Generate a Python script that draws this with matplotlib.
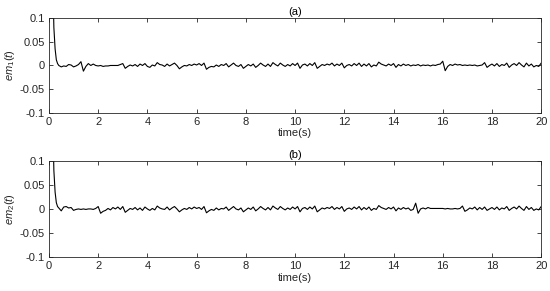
import numpy as np
from matplotlib import pyplot as plt

plt.rcParams['font.family'] = ['Liberation Sans', 'DejaVu Sans']
plt.rcParams['mathtext.fontset'] = 'custom'
plt.rcParams['mathtext.it'] = 'Liberation Sans:italic'
plt.rcParams['mathtext.rm'] = 'Liberation Sans'

# transient at the start (values above 0.1 are clipped by the axes)
t_head = [0.0, 0.15, 0.2, 0.25, 0.3, 0.35, 0.4]
em1_head = [1.0, 0.2, 0.08, 0.035, 0.012, 0.004, 0.0]
em2_head = [1.0, 0.2, 0.08, 0.035, 0.013, 0.005, 0.002]

# steady part, one value every 0.1 s from t = 0.5 to 20.0, in units of 1e-3
t_start = 0.5
t_step = 0.1
em1_milli = [
    -3, -1, -2, 2, 1, -3, -1, 2, 8, -12,
    -2, 4, 0, 3, 0, -1, 0, -2, -1, -1,
    0, 0, 0, 0, 2, 4, -6, -2, 1, -1,
    2, -2, 3, 0, 4, -2, -4, 1, -1, 6,
    2, 1, -2, 3, -1, 2, 5, 0, -7, -3,
    0, -1, 2, 0, 3, 1, 4, 0, 5, -8,
    -4, -2, -3, 1, -2, 2, 0, 4, -3, 1,
    5, 0, -2, 2, -6, -2, 2, -1, 3, -4,
    0, 5, 1, -2, 3, -2, 6, 2, -1, 5,
    1, -2, 2, -1, 4, 0, 5, -6, 1, 3,
    -1, 4, 0, 6, -6, -2, 2, 0, 3, 1,
    5, -1, 3, 0, 5, -5, 0, 2, -1, 4,
    0, 5, -2, 3, -1, 4, -3, 1, -1, 7,
    3, 1, -1, 3, 0, 4, -4, 2, -1, 3,
    0, 2, -1, 1, 0, 2, -1, 1, 0, 1,
    -1, 1, 0, 2, 3, 9, -11, -2, 2, 0,
    3, 1, 2, 0, 1, 0, 1, 0, 1, -1,
    0, 1, 6, -4, 0, 3, -1, 4, -2, 2,
    0, 5, -4, 1, 4, 0, 6, 1, -3, 5,
    -1, 3, -3, 0, -2, 5,
]
em2_milli = [
    -4, 4, 5, 2, 3, -3, -1, 0, -1, 0,
    -1, 0, 0, -1, 1, 5, -9, -5, -3, 1,
    -2, 3, 0, 4, -1, 5, -7, -3, 1, -1,
    3, -2, 2, -3, 4, 0, -3, 1, -2, 6,
    2, 0, -1, 4, -2, 2, 5, 0, -6, -2,
    1, -1, 3, 0, 4, 1, 3, -1, 5, -8,
    -4, -1, -3, 2, -2, 1, 0, 4, -3, 1,
    5, 0, -2, 2, -6, -2, 2, -1, 4, -4,
    0, 5, 1, -2, 3, -2, 6, 2, -1, 5,
    1, -2, 2, -1, 4, 0, 5, -6, 1, 3,
    -1, 4, 0, 6, -6, -2, 2, 0, 3, 1,
    5, -1, 3, 0, 5, -5, 0, 2, -1, 4,
    0, 5, -2, 3, -1, 4, -3, 1, -1, 7,
    3, 1, -1, 3, 0, 4, -4, 2, -1, 3,
    0, 2, -3, -1, 12, -9, 0, 2, 0, 3,
    1, 1, 1, 1, 1, 1, 0, 1, 0, 0,
    1, 0, 1, 6, -5, -2, 2, 0, 4, -2,
    3, -1, 4, -3, 0, 3, -1, 4, -2, 2,
    0, 5, -3, 1, 4, 0, 6, 1, -3, 5,
    -1, 3, -3, 0, -2, 5,
]

t_body = t_start + t_step * np.arange(len(em1_milli))
t1 = np.concatenate([t_head, t_body])
em1 = np.concatenate([em1_head, np.array(em1_milli) / 1000.0])
em2 = np.concatenate([em2_head, np.array(em2_milli) / 1000.0])

xticks = [0, 2, 4, 6, 8, 10, 12, 14, 16, 18, 20]
yticks = [-0.1, -0.05, 0, 0.05, 0.1]
ytick_labels = ['-0.1', '-0.05', '0', '0.05', '0.1']

fig = plt.figure(figsize=(5.5, 2.91), dpi=100)
ax_a = fig.add_axes([0.089, 0.612, 0.895, 0.326])
ax_b = fig.add_axes([0.089, 0.117, 0.895, 0.330])

gray = '#262626'
for ax, y, title, ylab in [(ax_a, em1, '(a)', r'$em_1(t)$'),
                           (ax_b, em2, '(b)', r'$em_2(t)$')]:
    ax.plot(t1, y, color='black', linewidth=0.8)
    ax.set_xlim(0, 20)
    ax.set_ylim(-0.1, 0.1)
    ax.set_xticks(xticks)
    ax.set_xticklabels([str(k) for k in xticks])
    ax.set_yticks(yticks)
    ax.set_yticklabels(ytick_labels)
    ax.tick_params(direction='in', top=True, right=True, length=3,
                   width=0.6, labelsize=8, colors=gray, pad=3)
    for s in ax.spines.values():
        s.set_linewidth(0.6)
        s.set_color(gray)
    ax.set_title(title, fontsize=8, color='black', pad=2)
    ax.set_xlabel('time(s)', fontsize=8, color=gray, labelpad=1)
    ax.set_ylabel(ylab, fontsize=8, color=gray, labelpad=2)

plt.savefig('out.png', dpi=100)
